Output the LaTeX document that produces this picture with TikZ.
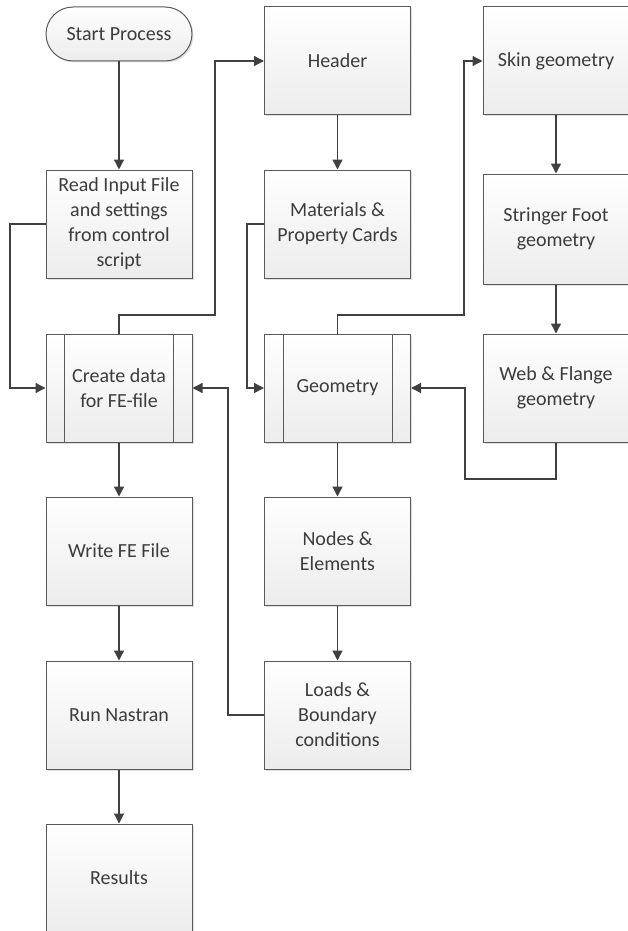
\documentclass[tikz,border=0pt]{standalone}
\usepackage{fontspec}
\setmainfont{Carlito}
\usetikzlibrary{arrows.meta,shadows,calc}
\definecolor{bordc}{HTML}{5A5A5A}
\definecolor{linec}{HTML}{404040}
\definecolor{txtc}{HTML}{3C3C3C}
\definecolor{botc}{HTML}{ECECEC}
\begin{document}
\begin{tikzpicture}[x=1pt,y=-1pt,
  box/.style={draw=bordc, line width=1pt, top color=white, bottom color=botc,
    minimum width=146pt, minimum height=108pt, align=center, inner sep=2pt,
    text=txtc, font=\fontsize{20}{25}\selectfont,
    drop shadow={shadow xshift=1.5pt, shadow yshift=-1.5pt, opacity=0.25, fill=gray}},
  term/.style={box, minimum height=54pt, rounded corners=27pt},
  conn/.style={draw=linec, line width=1.3pt, -{Triangle[length=10pt,width=10pt]}},
  plain/.style={draw=linec, line width=1.3pt}
]
\useasboundingbox (0,0) rectangle (627,931);
% column 1
\node[term] (start) at (119,34) {Start Process};
\node[box] (read) at (119,224) {Read Input File\\and settings\\from control\\script};
\node[box] (create) at (119,388) {Create data\\for FE-file};
\node[box] (write) at (119,551) {Write FE File};
\node[box] (run) at (119,715) {Run Nastran};
\node[box] (res) at (119,878) {Results};
% column 2
\node[box] (head) at (337.5,61) {Header};
\node[box] (mat) at (337.5,224) {Materials \&\\Property Cards};
\node[box] (geo) at (337.5,388) {Geometry};
\node[box] (nodes) at (337.5,551) {Nodes \&\\Elements};
\node[box] (loads) at (337.5,715) {Loads \&\\Boundary\\conditions};
% column 3
\node[box] (skin) at (556,61) {Skin geometry};
\node[box, minimum height=110pt] (str) at (556,229) {Stringer Foot\\geometry};
\node[box] (web) at (556,388) {Web \& Flange\\geometry};
% subprocess inner lines
\draw[bordc, line width=1pt] ($(create.north west)+(19,0)$) -- ($(create.south west)+(19,0)$);
\draw[bordc, line width=1pt] ($(create.north east)+(-19,0)$) -- ($(create.south east)+(-19,0)$);
\draw[bordc, line width=1pt] ($(geo.north west)+(19,0)$) -- ($(geo.south west)+(19,0)$);
\draw[bordc, line width=1pt] ($(geo.north east)+(-19,0)$) -- ($(geo.south east)+(-19,0)$);
% coordinates
\coordinate (a1) at (10,224);
\coordinate (a2) at (10,388);
\coordinate (b1) at (119,315);
\coordinate (b2) at (215,315);
\coordinate (b3) at (215,61);
\coordinate (c1) at (247,224);
\coordinate (c2) at (247,388);
\coordinate (d1) at (337.5,315);
\coordinate (d2) at (464,315);
\coordinate (d3) at (464,61);
\coordinate (e1) at (556,479);
\coordinate (e2) at (465,479);
\coordinate (e3) at (465,388);
\coordinate (f1) at (228,715);
\coordinate (f2) at (228,388);
% column 1 connectors
\draw[conn] (start) -- (read);
\draw[conn] (create) -- (write);
\draw[conn] (write) -- (run);
\draw[conn] (run) -- (res);
\draw[conn] (read.west) -- (a1) -- (a2) -- (create.west);
\draw[conn] (create.north) -- (b1) -- (b2) -- (b3) -- (head.west);
% column 2
\draw[conn] (head) -- (mat);
\draw[conn] (geo) -- (nodes);
\draw[conn] (nodes) -- (loads);
\draw[conn] (mat.west) -- (c1) -- (c2) -- (geo.west);
\draw[conn] (geo.north) -- (d1) -- (d2) -- (d3) -- (skin.west);
\draw[conn] (loads.west) -- (f1) -- (f2) -- (create.east);
% column 3
\draw[conn] (skin) -- (str);
\draw[conn] (str) -- (web);
\draw[conn] (web.south) -- (e1) -- (e2) -- (e3) -- (geo.east);
\end{tikzpicture}
\end{document}
